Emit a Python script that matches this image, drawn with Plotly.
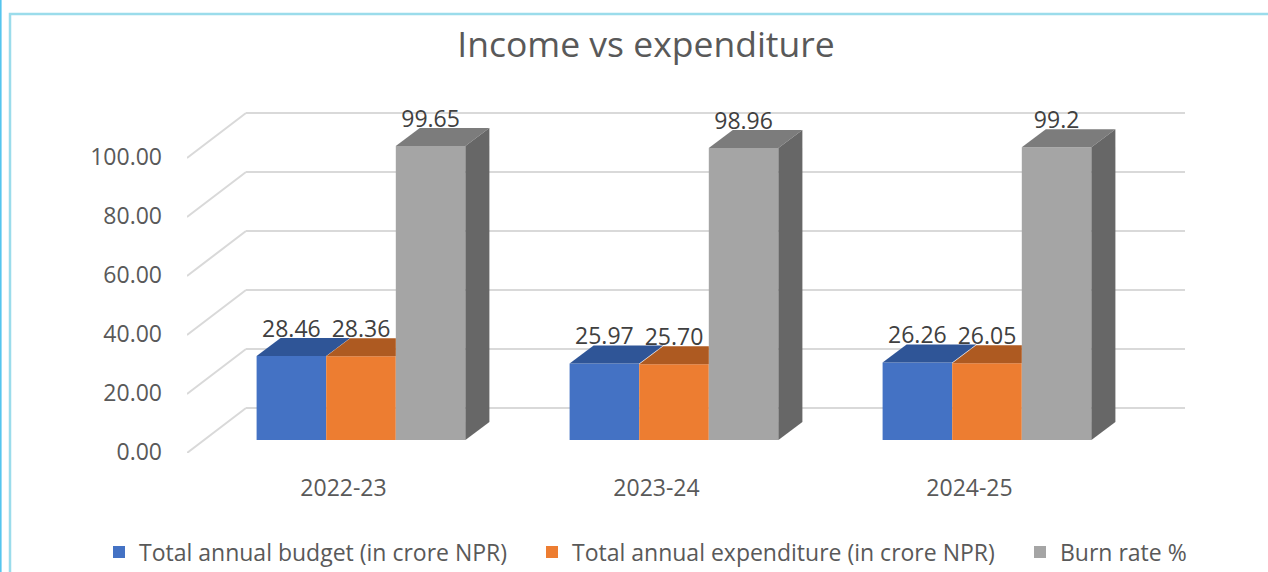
import plotly.graph_objects as go

categories = ["2022-23", "2023-24", "2024-25"]
budget = [28.46, 25.97, 26.26]
expenditure = [28.36, 25.70, 26.05]
burn_rate = [99.65, 98.96, 99.20]
budget_labels = ["28.46", "25.97", "26.26"]
expenditure_labels = ["28.36", "25.70", "26.05"]
burn_labels = ["99.65", "98.96", "99.2"]
y_ticks = [0, 20, 40, 60, 80, 100]
y_tick_labels = ["0.00", "20.00", "40.00", "60.00", "80.00", "100.00"]

W, H = 1268, 572
L, R, T, B = 187, 1186, 100, 453
PX_X = 313.0
PX_Y = 2.95
floor_dx = 59 / PX_X
floor_dy = 45 / PX_Y
base = 13 / PX_Y
bar_w = 69.6 / PX_X
shift = 17.5 / PX_X
bar_dx = 24 / PX_X
bar_dy = 18 / PX_Y

GREY_T = "#595959"
series = [
    ("Total annual budget (in crore NPR)", budget, budget_labels, "#4472C4", "#2F5597", "#264478", "legend", 99),
    ("Total annual expenditure (in crore NPR)", expenditure, expenditure_labels, "#ED7D31", "#AE5A21", "#843C0C", "legend2", 532),
    ("Burn rate %", burn_rate, burn_labels, "#A5A5A5", "#7C7C7C", "#676767", "legend3", 1020),
]

fig = go.Figure()
n = len(categories)

# front faces
for k, (name, vals, labs, front, top, side, leg, lx) in enumerate(series):
    fig.add_trace(go.Bar(
        x=[i + 0.5 + shift + (k - 1) * bar_w for i in range(n)],
        y=vals, base=[base] * n, width=bar_w, name=name, legend=leg,
        marker=dict(color=front, line=dict(width=0)), hoverinfo="skip",
    ))

# top and side faces
for k, (name, vals, labs, front, top, side, leg, lx) in enumerate(series):
    for i in range(n):
        x0 = i + 0.5 + shift + (k - 1.5) * bar_w
        x1 = x0 + bar_w
        yt = vals[i] + base
        # the next bar hides the part of the top behind it when it is taller
        right_back = x1 + bar_dx if k != 1 else x1
        fig.add_trace(go.Scatter(
            x=[x0, x0 + bar_dx, right_back, x1, x0],
            y=[yt, yt + bar_dy, yt + bar_dy, yt, yt],
            mode="lines", fill="toself", fillcolor=top, line=dict(width=0),
            showlegend=False, hoverinfo="skip",
        ))
        if k == 2:
            fig.add_trace(go.Scatter(
                x=[x1, x1 + bar_dx, x1 + bar_dx, x1, x1],
                y=[yt, yt + bar_dy, base + bar_dy, base, yt],
                mode="lines", fill="toself", fillcolor=side, line=dict(width=0),
                showlegend=False, hoverinfo="skip",
            ))

# data labels
for k, (name, vals, labs, front, top, side, leg, lx) in enumerate(series):
    fig.add_trace(go.Scatter(
        x=[i + 0.5 + shift + (k - 1) * bar_w for i in range(n)],
        y=[v + base + bar_dy - 1.5 for v in vals],
        text=labs, mode="text", textposition="top center", cliponaxis=False,
        textfont=dict(family="Open Sans", size=23, color="#404040"),
        showlegend=False, hoverinfo="skip",
    ))

# walls and floor grid
shapes = []
for v in y_ticks:
    shapes.append(dict(type="line", xref="x", yref="y", layer="below",
                       x0=0, y0=v, x1=floor_dx, y1=v + floor_dy,
                       line=dict(color="#D9D9D9", width=2)))
    shapes.append(dict(type="line", xref="x", yref="y", layer="below",
                       x0=floor_dx, y0=v + floor_dy, x1=n + floor_dx, y1=v + floor_dy,
                       line=dict(color="#D9D9D9", width=2)))

def px(x):
    return (x - L) / (R - L)

def py(y):
    return (B - y) / (B - T)

# page frame
shapes.append(dict(type="path", xref="paper", yref="paper", layer="below",
                   path=f"M {px(W + 2)} {py(14)} L {px(10)} {py(14)} L {px(10)} {py(H + 2)}",
                   line=dict(color="#9BDCEB", width=2.5)))
shapes.append(dict(type="line", xref="paper", yref="paper", layer="below",
                   x0=px(0.8), y0=py(-2), x1=px(0.8), y1=py(H + 2),
                   line=dict(color="#55C5EE", width=1.6)))

leg_font = dict(family="Open Sans", size=23, color=GREY_T)
def legend_at(px_x):
    return dict(orientation="h", x=px_x / W, y=1 - 552 / H, xref="container", yref="container",
                xanchor="left", yanchor="middle",
                font=leg_font, bgcolor="rgba(0,0,0,0)", borderwidth=0)

fig.update_layout(
    width=W, height=H,
    margin=dict(l=L, r=W - R, t=T, b=H - B, pad=0),
    paper_bgcolor="white", plot_bgcolor="white",
    barmode="overlay", showlegend=True,
    title=dict(text="Income vs expenditure", x=646 / W, y=1 - 45 / H,
               xref="container", yref="container", xanchor="center", yanchor="middle",
               font=dict(family="Open Sans", size=35.5, color=GREY_T)),
    xaxis=dict(range=[0, (R - L) / PX_X], tickmode="array",
               tickvals=[i + 0.5 for i in range(n)], ticktext=categories,
               showgrid=False, zeroline=False, showline=False, ticks="",
               ticklabelstandoff=19, automargin=False,
               tickfont=dict(family="Open Sans", size=23, color=GREY_T)),
    yaxis=dict(range=[0, (B - T) / PX_Y], tickmode="array",
               tickvals=y_ticks, ticktext=y_tick_labels,
               showgrid=False, zeroline=False, showline=False, ticks="",
               ticklabelstandoff=24, ticklabelshift=-1, automargin=False,
               tickfont=dict(family="Open Sans", size=23, color=GREY_T)),
    legend=legend_at(series[0][7]),
    legend2=legend_at(series[1][7]),
    legend3=legend_at(series[2][7]),
    shapes=shapes,
)

fig.write_html("out.html", config=dict(displayModeBar=False),
               post_script="document.body.style.margin='0';document.body.style.overflow='hidden';")
